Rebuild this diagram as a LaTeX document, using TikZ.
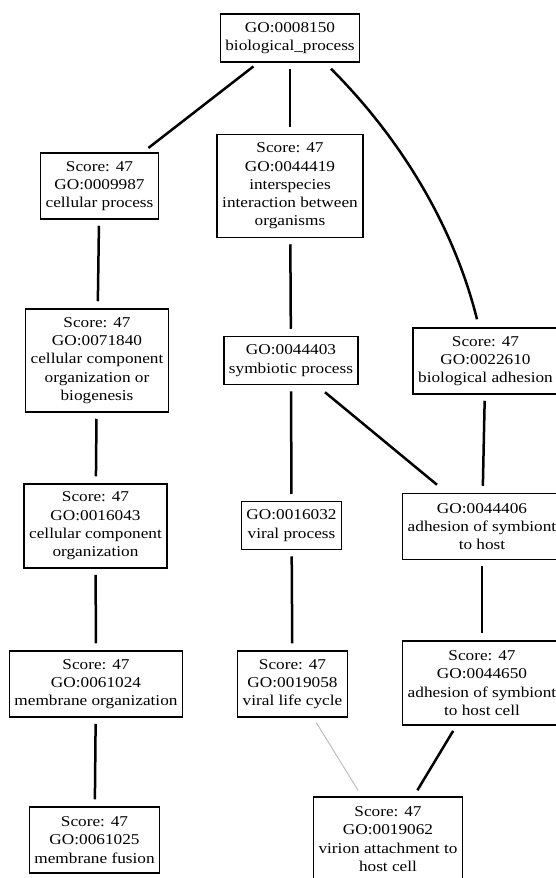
\documentclass[tikz,border=0pt]{standalone}
\usepackage{fontspec}
\setmainfont{Liberation Serif}[FakeStretch=1.15]
\usetikzlibrary{calc}
\begin{document}
\begin{tikzpicture}[x=1pt,y=-1pt,
  box/.style={draw,line width=1.5pt,align=center,font=\fontsize{15}{18.3}\selectfont,inner xsep=5pt,inner ysep=3pt},
  h2/.style={minimum height=48pt},
  h3/.style={minimum height=66pt},
  h4/.style={minimum height=84pt},
  h5/.style={minimum height=103pt},
  link/.style={line width=2.5pt,shorten <=6pt,shorten >=7pt},
  weak/.style={line width=1pt,draw=black!25,shorten <=6pt,shorten >=7pt}]
\fill[white] (0,0) rectangle (556,878);
\useasboundingbox (0,0) rectangle (556,878);

\node[box,h2] (top) at (290,38) {GO:0008150\\biological\_process};
\node[box,h3] (cp) at (99.5,186) {Score: 47\\GO:0009987\\cellular process};
\node[box,h5] (isp) at (290,186) {Score: 47\\GO:0044419\\interspecies\\interaction between\\organisms};
\node[box,h5] (ccob) at (97,360.5) {Score: 47\\GO:0071840\\cellular component\\organization or\\biogenesis};
\node[box,h2] (symb) at (291,360.5) {GO:0044403\\symbiotic process};
\node[box,h3] (ba) at (485.5,361) {Score: 47\\GO:0022610\\biological adhesion};
\node[box,h4] (cco) at (95.5,526) {Score: 47\\GO:0016043\\cellular component\\organization};
\node[box,h2] (vp) at (291.5,525.5) {GO:0016032\\viral process};
\node[box,h3] (ash) at (482,526.5) {GO:0044406\\adhesion of symbiont\\to host};
\node[box,h3] (mo) at (96,684) {Score: 47\\GO:0061024\\membrane organization};
\node[box,h3] (vlc) at (292.5,684) {Score: 47\\GO:0019058\\viral life cycle};
\node[box,h4] (ashc) at (482,683) {Score: 47\\GO:0044650\\adhesion of symbiont\\to host cell};
\node[box,h3] (mf) at (94.5,840) {Score: 47\\GO:0061025\\membrane fusion};
\node[box,h4] (vat) at (388,839) {Score: 47\\GO:0019062\\virion attachment to\\host cell};

\draw[link] (top) -- (cp);
\draw[link] (top) -- (isp);
\draw[line width=2.5pt] ($(top.south)+(41,6)$) .. controls +(64,64) and +(-25,-100) .. ($(ba.north)+(-8.5,-8)$);
\draw[link] (cp) -- (ccob);
\draw[link] (ccob) -- (cco);
\draw[link] (cco) -- (mo);
\draw[link] (mo) -- (mf);
\draw[link] (isp) -- (symb);
\draw[link] (symb) -- (vp);
\draw[line width=2.5pt] ($(symb.south)+(34,7)$) -- ($(ash.north)+(-45,-8)$);
\draw[link] (vp) -- (vlc);
\draw[link] (ba) -- (ash);
\draw[link] (ash) -- (ashc);
\draw[link] (ashc) -- (vat);
\draw[weak] (vlc) -- (vat);
\end{tikzpicture}
\end{document}
